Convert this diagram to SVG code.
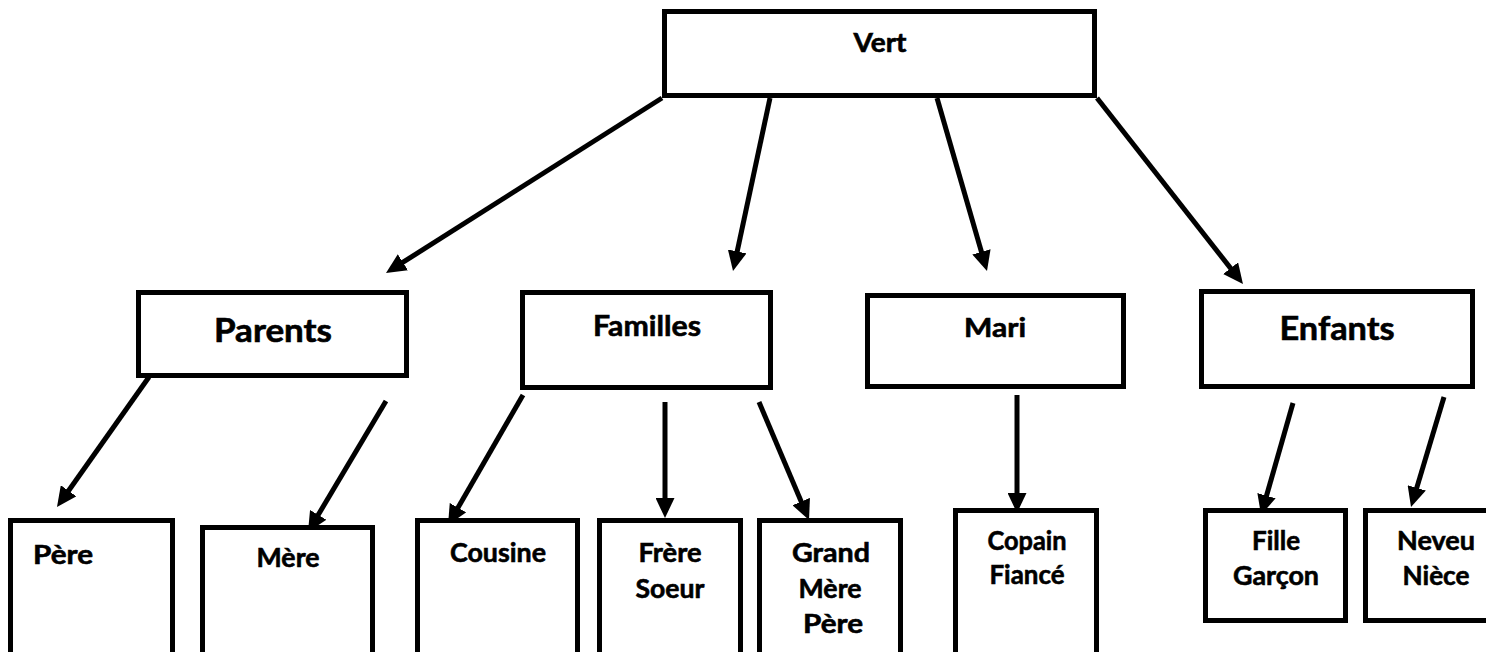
<svg xmlns="http://www.w3.org/2000/svg" width="1486" height="652" viewBox="0 0 1486 652">
<style>
.box{fill:#fff;stroke:#000;stroke-width:5}
.t{font-family:Lato,"Open Sans",sans-serif;font-weight:bold;fill:#000;stroke:#000;stroke-width:0.6;text-anchor:middle}
.s{font-size:27px}
.m{font-size:29px}
.l{font-size:32px}
.v{font-size:26px}
.c{fill:none;stroke:#000;stroke-width:5;marker-end:url(#ah)}
</style>
<defs>
<marker id="ah" viewBox="0 0 20 19" refX="11" refY="9.5" markerWidth="20" markerHeight="19" markerUnits="userSpaceOnUse" orient="auto">
<path d="M0,0 L20,9.5 L0,19 z" fill="#000"/>
</marker>
</defs>
<rect width="1486" height="652" fill="#fff"/>
<g id="connectors">
<line class="c" x1="662" y1="98" x2="393.6" y2="268.2"/>
<line class="c" x1="770" y1="98" x2="734.9" y2="262.2"/>
<line class="c" x1="937" y1="98" x2="984.5" y2="262.4"/>
<line class="c" x1="1097" y1="98" x2="1237.4" y2="276.9"/>
<line class="c" x1="149" y1="377" x2="62.2" y2="499.7"/>
<line class="c" x1="386" y1="401" x2="312.6" y2="524.3"/>
<line class="c" x1="523" y1="395" x2="452.5" y2="517.2"/>
<line class="c" x1="665" y1="402" x2="665" y2="509"/>
<line class="c" x1="759" y1="402" x2="805.5" y2="511.7"/>
<line class="c" x1="1017" y1="395" x2="1017" y2="504"/>
<line class="c" x1="1293" y1="403" x2="1263.5" y2="506.3"/>
<line class="c" x1="1444" y1="397" x2="1413.6" y2="498.4"/>
</g>
<g id="vert"><rect class="box" x="664.5" y="11.5" width="430" height="84"/><text class="t v" x="880" y="52" textLength="53" lengthAdjust="spacingAndGlyphs">Vert</text></g>
<g id="parents"><rect class="box" x="138.5" y="292.5" width="268" height="83"/><text class="t l" x="273" y="342" textLength="118" lengthAdjust="spacingAndGlyphs">Parents</text></g>
<g id="familles"><rect class="box" x="522.5" y="292.5" width="248" height="95"/><text class="t m" x="647" y="336" textLength="108" lengthAdjust="spacingAndGlyphs">Familles</text></g>
<g id="mari"><rect class="box" x="867.5" y="295.5" width="256" height="91"/><text class="t s" x="995" y="337" textLength="62" lengthAdjust="spacingAndGlyphs">Mari</text></g>
<g id="enfants"><rect class="box" x="1201.5" y="291.5" width="271" height="95"/><text class="t l" x="1337" y="340" textLength="115" lengthAdjust="spacingAndGlyphs">Enfants</text></g>
<g id="pere"><rect class="box" x="10.5" y="520.5" width="162" height="200"/><text class="t s" x="63" y="564" textLength="60" lengthAdjust="spacingAndGlyphs">Père</text></g>
<g id="mere"><rect class="box" x="202.5" y="527.5" width="170" height="200"/><text class="t s" x="288" y="567" textLength="63" lengthAdjust="spacingAndGlyphs">Mère</text></g>
<g id="cousine"><rect class="box" x="417.5" y="520.5" width="160" height="200"/><text class="t s" x="498" y="562" textLength="96" lengthAdjust="spacingAndGlyphs">Cousine</text></g>
<g id="frere"><rect class="box" x="599.5" y="520.5" width="141" height="200"/><text class="t s" x="670" y="562" textLength="63" lengthAdjust="spacingAndGlyphs">Frère</text><text class="t s" x="670" y="598" textLength="69" lengthAdjust="spacingAndGlyphs">Soeur</text></g>
<g id="grand"><rect class="box" x="759.5" y="520.5" width="141" height="200"/><text class="t s" x="831" y="562" textLength="78" lengthAdjust="spacingAndGlyphs">Grand</text><text class="t s" x="830" y="598" textLength="63" lengthAdjust="spacingAndGlyphs">Mère</text><text class="t s" x="833" y="633" textLength="60" lengthAdjust="spacingAndGlyphs">Père</text></g>
<g id="copain"><rect class="box" x="955.5" y="510.5" width="141" height="200"/><text class="t s" x="1027" y="550" textLength="79" lengthAdjust="spacingAndGlyphs">Copain</text><text class="t s" x="1027" y="584" textLength="75" lengthAdjust="spacingAndGlyphs">Fiancé</text></g>
<g id="fille"><rect class="box" x="1205.5" y="510.5" width="140" height="110"/><text class="t s" x="1276" y="550" textLength="48" lengthAdjust="spacingAndGlyphs">Fille</text><text class="t s" x="1276" y="585" textLength="86" lengthAdjust="spacingAndGlyphs">Garçon</text></g>
<g id="neveu"><rect class="box" x="1365.5" y="510.5" width="140" height="110"/><text class="t s" x="1436" y="550" textLength="78" lengthAdjust="spacingAndGlyphs">Neveu</text><text class="t s" x="1436" y="585" textLength="67" lengthAdjust="spacingAndGlyphs">Nièce</text></g>
</svg>
